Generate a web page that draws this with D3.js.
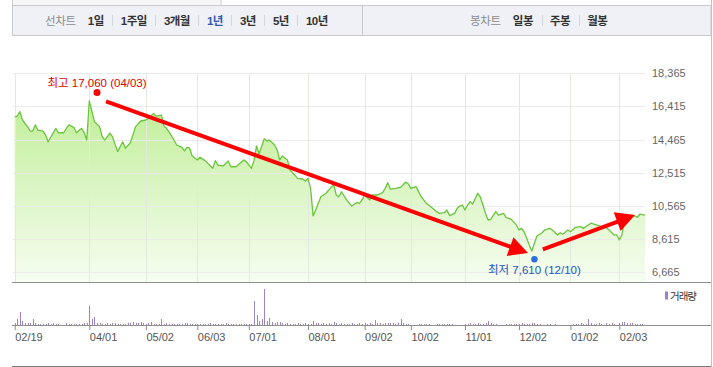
<!DOCTYPE html>
<html>
<head>
<meta charset="utf-8">
<script src="https://cdn.jsdelivr.net/npm/d3@7"></script>
<style>
  body { margin: 0; background: #fff; }
  svg { display: block; font-family: "Liberation Sans", Arial, "Noto Sans CJK KR", sans-serif; }
</style>
</head>
<body>
<div id="chart"></div>
<script>
// trading day index (0 = 02/19) and closing price
let priceDays = [0, 1, 2, 3, 5, 6, 7, 8, 9, 11, 12, 13, 15, 16, 17, 19, 21, 23, 24, 26, 27, 28, 29, 31, 33, 34, 35, 37, 38, 40,
  42, 43, 45, 47, 49, 51, 52, 54, 55, 57, 58, 59, 61, 63, 65, 66, 67, 68, 69, 71, 72, 74, 77, 78, 79, 81, 83, 84, 86, 89,
  90, 92, 93, 94, 95, 97, 98, 99, 101, 102, 103, 104, 106, 107, 110, 112, 113, 114, 115, 116, 117, 119, 121, 123, 124, 125, 126, 127, 129, 131,
  133, 134, 135, 136, 138, 139, 141, 143, 144, 145, 146, 148, 150, 152, 153, 154, 156, 158, 160, 162, 164, 165, 167, 168, 169, 171, 172, 173, 174, 175,
  176, 177, 178, 180, 181, 182, 183, 184, 185, 187, 188, 190, 191, 193, 195, 196, 197, 198, 199, 200, 201, 202, 203, 205, 206, 208, 209, 211, 212, 213,
  215, 216, 218, 220, 221, 223, 224, 226, 228, 230, 231, 233, 234, 235, 236, 237, 239, 240, 242, 243, 245]
let priceClose = [15810, 15850, 16110, 15620, 15230, 14970, 14970, 15330, 15030, 14970, 14740, 14340, 14870, 15130, 14870, 14870, 15330, 15190, 14870, 15130, 14870, 14440, 16740, 15520, 15230, 14640, 14440, 14840, 14640, 13760,
  14340, 13960, 14290, 15230, 15560, 15620, 15720, 16010, 15850, 15910, 15270, 15130, 14680, 14150, 14010, 13810, 14010, 13960, 13500, 13270, 13430, 13230, 12780, 13230, 12960, 12920, 13210, 12870, 12870, 13270,
  13170, 12780, 13230, 14090, 13620, 14520, 14390, 14440, 14150, 13860, 13270, 13500, 13270, 12680, 12190, 12150, 12030, 12190, 11600, 9980, 10330, 11110, 11310, 11660, 11800, 11210, 11110, 11400, 10920, 10560,
  10760, 10720, 10920, 11210, 10920, 11210, 11210, 11350, 11600, 11930, 11550, 11600, 11660, 11970, 11860, 11600, 11700, 11110, 10720, 10490, 10230, 10130, 10170, 10330, 10000, 10130, 10430, 10560, 10620, 10330,
  10620, 10820, 10680, 11310, 11080, 10620, 10130, 9740, 9780, 10230, 10030, 10130, 9900, 9780, 9450, 9150, 9250, 9050, 8670, 8270, 7920, 8370, 8800, 8990, 9150, 9250, 9150, 8860, 8990, 8900,
  9150, 9050, 9310, 9350, 9250, 9450, 9550, 9450, 9350, 9290, 9150, 8860, 8860, 8570, 8860, 9700, 9740, 10030, 9900, 10080, 10030]

// one value per trading day (thousand shares)
let volume = [17, 60, 130, 40, 23, 23, 23, 60, 23, 13,
  13, 13, 13, 17, 13, 20, 13, 13, 0, 0,
  20, 13, 13, 13, 13, 13, 13, 20, 23, 190,
  57, 80, 23, 20, 13, 13, 17, 13, 20, 20,
  13, 13, 13, 13, 17, 23, 30, 23, 17, 30,
  23, 13, 20, 30, 13, 13, 13, 60, 13, 23,
  13, 13, 13, 13, 13, 13, 20, 20, 13, 13,
  13, 13, 13, 13, 13, 13, 20, 13, 13, 13,
  13, 13, 20, 13, 13, 13, 13, 13, 13, 13,
  13, 13, 13, 240, 100, 40, 60, 360, 40, 70,
  33, 23, 30, 30, 20, 13, 17, 13, 13, 13,
  20, 13, 13, 20, 13, 13, 40, 23, 17, 13,
  20, 13, 17, 13, 30, 20, 13, 17, 13, 13,
  13, 17, 13, 13, 17, 13, 23, 13, 17, 13,
  47, 20, 17, 13, 23, 17, 23, 17, 13, 20,
  60, 23, 13, 13, 0, 0, 0, 10, 10, 10,
  10, 10, 0, 0, 10, 10, 10, 10, 10, 10,
  10, 0, 0, 0, 0, 13, 13, 17, 13, 13,
  17, 13, 13, 20, 40, 17, 13, 13, 0, 0,
  0, 13, 13, 10, 13, 13, 13, 17, 13, 13,
  13, 17, 17, 13, 13, 0, 0, 10, 13, 0,
  13, 0, 0, 0, 0, 0, 0, 13, 13, 13,
  17, 13, 13, 60, 23, 13, 13, 17, 13, 0,
  17, 13, 17, 13, 0, 23, 30, 30, 20, 17,
  17, 13, 13, 13, 13, 0]

let tickDays = [0, 29, 51, 71, 91, 114, 136, 154, 175, 196, 216, 235]
let tickLabels = ["02/19", "04/01", "05/02", "06/03", "07/01", "08/01", "09/02", "10/02", "11/01", "12/02", "01/02", "02/03"]
let priceTicks = [18365, 16415, 14465, 12515, 10565, 8615, 6665]

let lineTabs = ["1일", "1주일", "3개월", "1년", "3년", "5년", "10년"]
let candleTabs = ["일봉", "주봉", "월봉"]
let selectedTab = "1년"

// high / low markers: [day, price, label]
let highMark = [32, 17060, "최고 17,060 (04/03)"]
let lowMark = [202, 7610, "최저 7,610 (12/10)"]
// hand drawn trend arrows: [fromDay, fromPrice, toDay, toPrice]
let trendArrows = [[35.5, 16710, 199.5, 7800], [205.3, 8010, 241.1, 10030]]

let width = 713, height = 367
let plotLeft = 13, plotRight = 645, panelBottom = 282
let volBase = 325, volTop = 289

let svg = d3.select("#chart").append("svg")
  .attr("width", width)
  .attr("height", height)

// ---- toolbar ----
svg.append("rect").attr("x", 12.5).attr("y", -1).attr("width", 208.5).attr("height", 6.5)
  .attr("fill", "#f6f6f6").attr("stroke", "#cfcfcf")
svg.append("rect").attr("x", 12.5).attr("y", 5.5).attr("width", 698.5).attr("height", 30)
  .attr("fill", "#eff1f6").attr("stroke", "#c6c9cf")
svg.append("line").attr("x1", 362.5).attr("x2", 362.5).attr("y1", 5.5).attr("y2", 35.5)
  .attr("stroke", "#c6c9cf")

let bar = svg.append("g")
  .style("font-size", "11.5px")

function drawTabs(label, tabs, x0) {
  let cx = x0
  let t = bar.append("text")
    .attr("x", cx).attr("y", 25)
    .attr("fill", "#8c8c8c")
    .style("letter-spacing", "-0.3px")
    .text(label)
  cx += t.node().getComputedTextLength() + 12
  tabs.forEach((name, i) => {
    if (i > 0) {
      bar.append("line")
        .attr("x1", Math.round(cx) + 0.5).attr("x2", Math.round(cx) + 0.5)
        .attr("y1", 15).attr("y2", 26)
        .attr("stroke", "#d3d5da")
      cx += 8.5
    }
    let s = bar.append("text")
      .attr("x", cx).attr("y", 25)
      .attr("font-weight", "bold")
      .attr("fill", name == selectedTab ? "#3358b4" : "#333")
      .style("letter-spacing", "-0.5px")
      .text(name)
    cx += s.node().getComputedTextLength() + 8.5
  })
}
drawTabs("선차트", lineTabs, 45)
drawTabs("봉차트", candleTabs, 470)

// ---- scales ----
let x = d3.scaleLinear()
  .domain([tickDays[0], tickDays[tickDays.length - 1]])
  .range([14.7, 619.3])
let y = d3.scaleLinear()
  .domain([d3.min(priceTicks), d3.max(priceTicks)])
  .range([272.3, 73.3])
let vy = d3.scaleLinear()
  .domain([0, d3.max(volume)])
  .range([volBase, volTop])

// ---- grid ----
let grid = svg.append("g").attr("stroke", "#ebebeb")
grid.selectAll(".hg")
  .data(priceTicks)
  .enter().append("line")
    .attr("x1", plotLeft).attr("x2", plotRight)
    .attr("y1", d => Math.round(y(d)) + 0.5)
    .attr("y2", d => Math.round(y(d)) + 0.5)

let closes = priceDays.map((d, i) => ({day: d, close: priceClose[i]}))

let defs = svg.append("defs")
let grad = defs.append("linearGradient")
  .attr("id", "fillGrad")
  .attr("gradientUnits", "userSpaceOnUse")
  .attr("x1", 0).attr("x2", 0)
  .attr("y1", y.range()[1]).attr("y2", panelBottom)
grad.append("stop").attr("offset", "0%").attr("stop-color", "#b9ec8b")
grad.append("stop").attr("offset", "100%").attr("stop-color", "#f6fdf1")

svg.append("path")
  .datum(closes)
  .attr("fill", "url(#fillGrad)")
  .attr("d", d3.area()
    .x(d => x(d.day))
    .y0(panelBottom)
    .y1(d => y(d.close)))

grid.selectAll(".vg")
  .data(tickDays)
  .enter().append("line")
    .attr("x1", d => Math.round(x(d)) + 0.5)
    .attr("x2", d => Math.round(x(d)) + 0.5)
    .attr("y1", Math.round(y.range()[1]))
    .attr("y2", panelBottom)
    .attr("stroke", "#e4e9e0")
grid.raise()

svg.append("path")
  .datum(closes)
  .attr("fill", "none")
  .attr("stroke", "#69c53a")
  .attr("stroke-width", 1.3)
  .attr("stroke-linejoin", "round")
  .attr("d", d3.line()
    .x(d => x(d.day))
    .y(d => y(d.close)))

// price labels on the right
svg.append("g")
  .attr("transform", "translate(652,0)")
  .call(d3.axisRight(y).tickValues(priceTicks).tickSize(0).tickPadding(0).tickFormat(d3.format(",")))
  .call(g => g.select(".domain").remove())
  .call(g => g.selectAll("text")
    .attr("font-family", "Liberation Sans, Arial, sans-serif")
    .attr("font-size", 11)
    .attr("fill", "#666"))

// ---- panel lines ----
let frame = svg.append("g").attr("stroke", "#8f8f8f")
frame.append("line").attr("x1", 12).attr("x2", 711).attr("y1", panelBottom + 0.5).attr("y2", panelBottom + 0.5)
frame.append("line").attr("x1", 12).attr("x2", 711).attr("y1", 366.5).attr("y2", 366.5).attr("stroke", "#7a7a7a")
svg.append("line").attr("x1", 711.5).attr("x2", 711.5).attr("y1", 0).attr("y2", height).attr("stroke", "#c2c2c2")

// ---- volume ----
svg.append("g")
  .selectAll("rect")
  .data(volume.map((v, i) => ({day: i, v: v})).filter(d => d.v > 0))
  .enter().append("rect")
    .attr("x", d => Math.round(x(d.day)))
    .attr("width", 1)
    .attr("y", d => Math.round(vy(d.v)))
    .attr("height", d => volBase - Math.round(vy(d.v)))
    .attr("fill", "#9a84cd")

svg.append("g")
  .attr("transform", "translate(0," + volBase + ")")
  .call(d3.axisBottom(x).tickValues(tickDays).tickSize(5).tickFormat((d, i) => tickLabels[i]))
  .call(g => g.select(".domain").remove())
  .call(g => g.selectAll("line").attr("stroke", "#8a8a8a"))
  .call(g => g.selectAll("text")
    .attr("text-anchor", "start")
    .attr("x", 0)
    .attr("font-family", "Liberation Sans, Arial, sans-serif")
    .attr("font-size", 11)
    .attr("fill", "#555"))

frame.append("line").attr("x1", 12).attr("x2", 711).attr("y1", volBase + 0.5).attr("y2", volBase + 0.5)
frame.raise()

svg.append("rect").attr("x", 665).attr("y", 291.5).attr("width", 3).attr("height", 8).attr("fill", "#9a84cd")
svg.append("text").attr("x", 670).attr("y", 299.5)
  .attr("font-size", 10.5).attr("fill", "#333")
  .style("letter-spacing", "-1px")
  .text("거래량")

// ---- trend arrows ----
let arrows = svg.append("g").attr("fill", "#ff0000").attr("stroke", "#ff0000")
trendArrows.forEach(a => {
  let x0 = x(a[0]), y0 = y(a[1]), x1 = x(a[2]), y1 = y(a[3])
  let len = Math.hypot(x1 - x0, y1 - y0)
  let ux = (x1 - x0) / len, uy = (y1 - y0) / len
  let head = 19, half = 10
  let bx = x1 - ux * head, by = y1 - uy * head
  arrows.append("line")
    .attr("x1", x0).attr("y1", y0)
    .attr("x2", bx + ux * 2).attr("y2", by + uy * 2)
    .attr("stroke-width", 4)
  arrows.append("path")
    .attr("stroke", "none")
    .attr("d", "M" + x1 + "," + y1 +
      "L" + (bx - uy * half) + "," + (by + ux * half) +
      "L" + (bx + uy * half) + "," + (by - ux * half) + "Z")
})

// ---- high / low markers ----
let hx = x(highMark[0]), hy = y(highMark[1]) - 3
svg.append("circle").attr("cx", hx).attr("cy", hy).attr("r", 3.5).attr("fill", "#f00")
svg.append("text").attr("x", hx).attr("y", hy - 5.5)
  .attr("text-anchor", "middle").attr("font-size", 11.5).attr("fill", "#e00000")
  .text(highMark[2])

let lx = x(lowMark[0]), ly = y(lowMark[1]) + 3
svg.append("circle").attr("cx", lx).attr("cy", ly).attr("r", 3.2).attr("fill", "#2a6fdc")
svg.append("text").attr("x", lx).attr("y", ly + 14.5)
  .attr("text-anchor", "middle").attr("font-size", 11.5).attr("fill", "#1d55c4")
  .text(lowMark[2])
</script>
</body>
</html>
